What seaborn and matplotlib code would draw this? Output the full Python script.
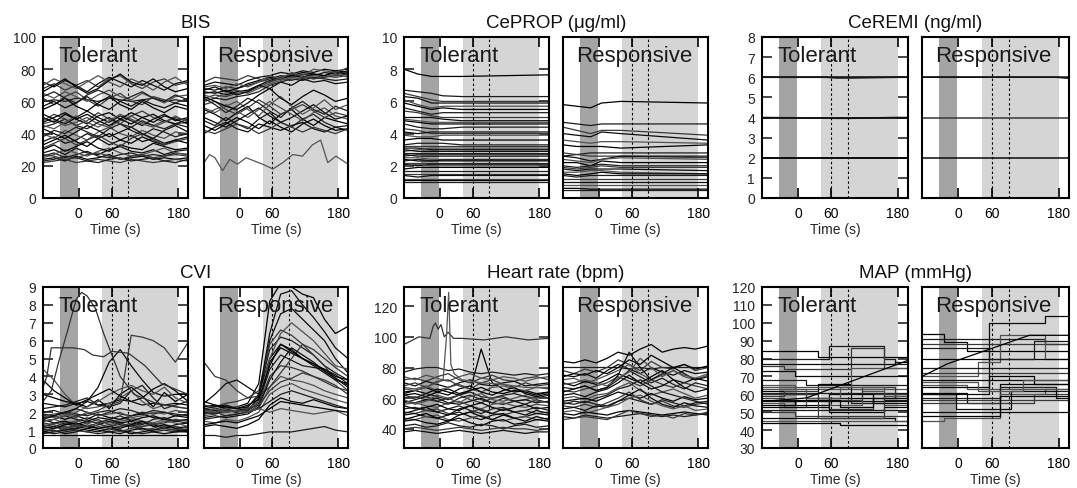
import matplotlib
matplotlib.use("Agg")
import matplotlib.pyplot as plt
import pandas as pd
import seaborn as sns

# ---------------------------------------------------------------- time grids (s)
T = [-65, -45, -25, -5, 15, 35, 55, 75, 95, 115, 135, 155, 175, 198]
T_PROP = [-65, -40, -15, 5, 40, 198]
T_REMI = [-65, 50, 70, 95, 175, 198]

# ---------------------------------------------------------------- BIS
bis_tolerant = [
    [24, 25, 23, 26, 24, 25, 27, 24, 25, 26, 24, 25, 24, 25],
    [26, 28, 25, 27, 29, 26, 25, 27, 28, 26, 27, 26, 28, 27],
    [22, 23, 24, 22, 23, 24, 23, 22, 24, 23, 22, 23, 24, 23],
    [28, 30, 27, 31, 28, 27, 30, 32, 29, 28, 30, 27, 29, 30],
    [25, 27, 30, 28, 26, 29, 31, 28, 26, 27, 29, 31, 28, 27],
    [30, 33, 29, 32, 35, 31, 29, 33, 31, 30, 34, 32, 30, 31],
    [23, 24, 26, 25, 23, 22, 24, 25, 23, 24, 25, 23, 22, 24],
    [27, 26, 24, 25, 27, 28, 26, 24, 26, 27, 25, 26, 27, 26],
    [35, 38, 34, 36, 40, 37, 33, 36, 39, 35, 37, 34, 36, 38],
    [40, 37, 42, 39, 36, 41, 44, 40, 38, 42, 39, 37, 41, 40],
    [33, 36, 39, 35, 32, 37, 40, 36, 34, 38, 35, 33, 36, 34],
    [38, 42, 40, 44, 41, 38, 43, 46, 42, 39, 43, 41, 38, 40],
    [31, 34, 37, 33, 36, 39, 35, 32, 37, 40, 36, 33, 35, 37],
    [43, 40, 37, 41, 45, 42, 38, 41, 44, 40, 37, 42, 45, 41],
    [46, 48, 45, 47, 50, 46, 44, 48, 51, 47, 45, 48, 46, 47],
    [50, 47, 52, 49, 46, 51, 53, 49, 46, 50, 52, 48, 46, 49],
    [44, 46, 49, 45, 43, 47, 50, 46, 44, 48, 45, 43, 46, 44],
    [48, 52, 49, 45, 48, 53, 49, 46, 51, 54, 50, 47, 50, 48],
    [52, 49, 46, 50, 54, 50, 47, 51, 48, 45, 49, 52, 48, 50],
    [45, 43, 47, 51, 47, 44, 48, 52, 49, 46, 44, 47, 51, 47],
    [47, 50, 53, 49, 52, 48, 45, 49, 53, 50, 47, 51, 49, 46],
    [60, 61, 60, 62, 61, 60, 62, 61, 60, 61, 62, 60, 61, 60],
    [62, 58, 63, 66, 61, 57, 62, 65, 60, 58, 63, 61, 59, 62],
    [57, 60, 56, 59, 63, 58, 55, 60, 57, 61, 58, 56, 59, 57],
    [65, 62, 66, 63, 60, 64, 67, 63, 61, 65, 62, 59, 63, 64],
    [55, 58, 62, 57, 54, 59, 63, 58, 55, 60, 56, 53, 57, 55],
    [63, 66, 62, 59, 64, 67, 64, 60, 63, 66, 62, 60, 64, 61],
    [68, 71, 67, 70, 73, 69, 74, 76, 71, 68, 72, 74, 70, 72],
    [72, 69, 73, 70, 66, 71, 75, 72, 69, 73, 70, 67, 71, 73],
    [70, 74, 71, 68, 72, 76, 72, 69, 74, 71, 67, 72, 75, 70],
    [66, 70, 74, 69, 65, 68, 73, 77, 72, 70, 74, 69, 66, 68],
]
bis_responsive = [
    [65, 66, 64, 66, 67, 70, 73, 75, 76, 75, 77, 76, 78, 77],
    [68, 67, 69, 68, 70, 72, 74, 76, 75, 77, 76, 78, 77, 79],
    [62, 64, 63, 65, 66, 69, 72, 74, 73, 75, 74, 76, 75, 76],
    [70, 72, 71, 70, 73, 75, 76, 78, 77, 79, 78, 80, 79, 80],
    [64, 62, 65, 67, 65, 68, 71, 73, 75, 74, 76, 75, 77, 75],
    [67, 69, 66, 68, 71, 73, 75, 74, 76, 78, 77, 76, 79, 78],
    [60, 62, 61, 63, 64, 66, 70, 72, 74, 73, 75, 74, 73, 74],
    [72, 75, 74, 73, 76, 74, 72, 75, 77, 76, 74, 75, 76, 77],
    [66, 65, 67, 64, 66, 70, 68, 72, 70, 74, 72, 73, 71, 72],
    [69, 70, 68, 71, 69, 72, 76, 74, 78, 76, 80, 79, 78, 81],
    [55, 52, 48, 53, 57, 50, 46, 52, 55, 49, 45, 50, 48, 46],
    [48, 45, 50, 46, 43, 49, 53, 47, 44, 49, 52, 47, 44, 45],
    [58, 60, 55, 52, 56, 61, 57, 52, 55, 58, 54, 50, 53, 51],
    [40, 44, 47, 43, 41, 46, 44, 42, 45, 47, 43, 41, 44, 42],
    [52, 55, 58, 54, 50, 55, 60, 56, 52, 48, 53, 56, 51, 49],
    [45, 42, 46, 50, 47, 43, 48, 44, 41, 46, 49, 45, 42, 43],
    [62, 58, 53, 57, 62, 59, 54, 50, 56, 60, 55, 52, 57, 54],
    [42, 40, 43, 46, 44, 40, 43, 47, 44, 41, 44, 42, 40, 43],
    [50, 47, 44, 48, 52, 56, 51, 47, 50, 54, 58, 53, 49, 51],
    [56, 53, 57, 60, 55, 51, 58, 63, 57, 52, 56, 61, 55, 58],
    [63, 60, 57, 55, 59, 64, 68, 62, 58, 63, 67, 64, 60, 62],
]
bis_responsive_low_t = [-65, -55, -45, -31, -18, -4, 12, 42, 61, 79, 97, 115, 133, 148, 161, 176, 198]
bis_responsive_low_v = [22, 27, 25, 17, 24, 21, 25, 21, 18, 22, 27, 26, 33, 36, 22, 26, 21]

# ---------------------------------------------------------------- CePROP (ug/ml)
prop_tolerant = [
    [8.0, 7.7, 7.55, 7.55, 7.55, 7.65],
    [6.7, 6.6, 6.5, 6.35, 6.3, 6.3],
    [6.5, 6.3, 6.1, 6.0, 6.0, 6.0],
    [6.3, 6.2, 5.9, 5.9, 5.9, 5.9],
    [6.1, 5.8, 5.6, 5.7, 5.7, 5.7],
    [5.9, 5.7, 5.5, 5.6, 5.5, 5.5],
    [5.6, 5.4, 5.2, 5.3, 5.3, 5.3],
    [5.4, 5.3, 5.1, 5.0, 5.0, 5.0],
    [5.0, 5.0, 5.0, 4.9, 4.8, 4.8],
    [4.9, 4.8, 4.7, 4.7, 4.7, 4.7],
    [4.8, 4.7, 4.6, 4.6, 4.6, 4.6],
    [4.6, 4.4, 4.3, 4.3, 4.4, 4.4],
    [4.3, 4.2, 4.0, 4.0, 4.0, 4.0],
    [4.1, 4.0, 4.1, 4.1, 4.1, 4.1],
    [3.9, 3.8, 3.8, 3.9, 3.9, 3.9],
    [3.6, 3.7, 3.7, 3.6, 3.6, 3.6],
    [3.3, 3.4, 3.4, 3.4, 3.3, 3.3],
    [3.2, 3.2, 3.2, 3.2, 3.2, 3.2],
    [3.1, 3.1, 3.0, 3.0, 3.0, 3.0],
    [2.9, 3.0, 3.1, 3.1, 3.1, 3.1],
    [3.0, 2.9, 2.9, 2.9, 2.9, 2.9],
    [2.8, 2.8, 2.8, 2.8, 2.8, 2.8],
    [2.6, 2.7, 2.7, 2.7, 2.7, 2.7],
    [2.7, 2.6, 2.6, 2.6, 2.6, 2.6],
    [2.5, 2.5, 2.4, 2.4, 2.4, 2.4],
    [2.4, 2.3, 2.3, 2.35, 2.35, 2.35],
    [2.3, 2.4, 2.3, 2.3, 2.3, 2.3],
    [2.2, 2.2, 2.2, 2.2, 2.2, 2.2],
    [2.1, 2.0, 2.1, 2.1, 2.1, 2.1],
    [2.0, 2.1, 2.0, 2.0, 2.0, 2.0],
    [1.8, 1.9, 1.9, 1.9, 1.9, 1.9],
    [1.7, 1.7, 1.7, 1.7, 1.7, 1.7],
    [1.5, 1.5, 1.5, 1.5, 1.5, 1.5],
    [1.4, 1.3, 1.4, 1.4, 1.4, 1.4],
    [1.2, 1.2, 1.2, 1.2, 1.2, 1.2],
    [1.1, 1.1, 1.1, 1.1, 1.1, 1.1],
    [1.0, 1.0, 1.0, 1.0, 1.0, 1.0],
]
prop_responsive = [
    [5.8, 5.7, 5.6, 5.9, 6.0, 5.9],
    [4.7, 4.6, 4.5, 4.6, 4.6, 4.6],
    [4.4, 4.2, 4.0, 4.2, 4.2, 3.9],
    [4.0, 3.9, 3.8, 4.1, 4.0, 3.6],
    [3.6, 3.5, 3.4, 3.5, 3.5, 3.4],
    [3.3, 3.2, 3.2, 3.2, 3.1, 3.3],
    [2.6, 2.7, 2.8, 2.8, 2.8, 2.8],
    [2.8, 2.7, 2.6, 2.6, 2.6, 2.5],
    [2.6, 2.5, 2.3, 2.4, 2.6, 2.6],
    [2.4, 2.3, 2.2, 2.4, 2.5, 2.4],
    [2.2, 2.2, 2.0, 2.3, 2.2, 2.2],
    [2.0, 1.9, 2.0, 2.1, 2.0, 2.0],
    [1.9, 1.8, 1.9, 2.0, 1.9, 1.9],
    [1.8, 1.7, 1.8, 1.8, 1.8, 1.7],
    [1.6, 1.6, 1.7, 1.7, 1.6, 1.5],
    [1.5, 1.4, 1.5, 1.6, 1.5, 1.5],
    [1.4, 1.3, 1.4, 1.4, 1.4, 1.4],
    [1.2, 1.2, 1.2, 1.2, 1.2, 1.2],
    [1.0, 1.0, 1.0, 1.0, 1.0, 1.0],
    [0.8, 0.8, 0.8, 0.8, 0.8, 0.8],
    [0.6, 0.6, 0.55, 0.55, 0.55, 0.55],
    [0.5, 0.5, 0.5, 0.5, 0.5, 0.5],
]

# ---------------------------------------------------------------- CeREMI (ng/ml)
remi_tolerant = [
    [6.0, 6.0, 5.97, 5.97, 6.0, 6.0],
    [6.0, 6.0, 6.0, 6.0, 6.0, 6.0],
    [4.0, 3.97, 3.96, 3.96, 4.0, 4.0],
    [4.0, 4.0, 4.0, 4.0, 4.0, 4.0],
    [2.0, 2.0, 2.0, 2.0, 2.0, 2.0],
    [2.0, 2.0, 2.0, 2.0, 2.0, 2.0],
]
remi_responsive = [
    [6.0, 6.0, 6.0, 6.0, 6.0, 5.95],
    [6.0, 6.0, 6.0, 6.0, 6.0, 6.0],
    [4.0, 4.0, 4.0, 4.0, 4.0, 4.0],
    [2.0, 2.0, 2.0, 2.0, 2.0, 2.0],
]

# ---------------------------------------------------------------- CVI
cvi_tolerant = [
    [0.7, 0.7, 0.7, 0.7, 0.7, 0.7, 0.7, 0.7, 0.7, 0.7, 0.7, 0.7, 0.7, 0.7],
    [0.9, 0.8, 0.9, 1.0, 0.9, 0.8, 0.9, 1.0, 0.9, 0.8, 0.9, 1.0, 0.9, 0.9],
    [1.1, 1.2, 1.0, 1.1, 1.3, 1.1, 1.0, 1.2, 1.3, 1.1, 1.0, 1.2, 1.1, 1.0],
    [1.3, 1.2, 1.4, 1.2, 1.1, 1.3, 1.5, 1.3, 1.2, 1.4, 1.3, 1.1, 1.3, 1.4],
    [1.5, 1.6, 1.4, 1.5, 1.7, 1.5, 1.4, 1.6, 1.7, 1.5, 1.4, 1.6, 1.5, 1.6],
    [1.7, 1.8, 1.6, 1.8, 1.6, 1.9, 1.7, 1.6, 1.8, 1.9, 1.7, 1.6, 1.8, 1.7],
    [1.9, 1.8, 2.0, 1.9, 1.8, 2.0, 2.1, 1.9, 1.8, 2.0, 1.9, 2.0, 1.9, 1.8],
    [1.0, 1.1, 1.2, 1.0, 0.9, 1.1, 1.2, 1.4, 1.2, 1.0, 1.1, 1.3, 1.2, 1.1],
    [0.8, 0.9, 1.0, 1.1, 1.0, 0.9, 1.1, 1.0, 0.8, 0.9, 1.0, 1.1, 1.0, 0.9],
    [1.2, 1.4, 1.3, 1.5, 1.4, 1.2, 1.3, 1.5, 1.6, 1.4, 1.3, 1.5, 1.4, 1.2],
    [1.6, 1.4, 1.5, 1.3, 1.5, 1.7, 1.6, 1.4, 1.5, 1.7, 1.8, 1.6, 1.5, 1.6],
    [2.0, 2.1, 1.9, 2.2, 2.0, 1.8, 2.0, 2.2, 2.1, 1.9, 2.1, 2.0, 1.8, 1.9],
    [1.4, 1.3, 1.1, 1.2, 1.4, 1.6, 1.3, 1.2, 1.4, 1.2, 1.3, 1.4, 1.6, 1.5],
    [0.9, 1.0, 0.8, 0.9, 1.1, 1.0, 0.9, 0.8, 1.0, 1.1, 0.9, 0.8, 0.9, 1.0],
    [1.8, 1.7, 1.9, 1.7, 2.0, 1.8, 1.9, 2.0, 1.7, 1.8, 2.0, 1.9, 2.1, 2.0],
    [1.2, 1.1, 1.3, 1.4, 1.2, 1.1, 1.2, 1.1, 1.3, 1.5, 1.2, 1.3, 1.1, 1.2],
    [1.5, 1.6, 1.8, 1.6, 1.5, 1.4, 1.6, 1.8, 1.5, 1.3, 1.6, 1.7, 1.5, 1.4],
    [1.1, 0.9, 1.1, 1.3, 1.2, 1.4, 1.1, 0.9, 1.1, 1.2, 1.4, 1.1, 1.0, 1.2],
    [2.5, 2.4, 2.3, 2.5, 2.6, 2.4, 2.5, 2.7, 2.6, 2.4, 2.5, 2.4, 2.5, 2.4],
    [4.4, 3.8, 3.0, 2.4, 2.2, 2.3, 2.5, 2.8, 3.2, 2.6, 2.2, 2.4, 2.3, 2.2],
    [3.0, 2.8, 2.6, 2.5, 2.3, 2.7, 2.2, 3.0, 3.4, 2.9, 2.3, 3.1, 2.6, 3.0],
    [2.2, 2.3, 2.4, 2.6, 2.8, 2.4, 2.3, 2.5, 3.2, 3.5, 2.8, 2.2, 2.4, 2.6],
    [1.8, 1.9, 2.0, 1.8, 1.9, 2.1, 2.4, 2.6, 6.3, 6.2, 6.0, 5.6, 4.8, 5.9],
    [1.6, 1.8, 2.0, 2.2, 2.6, 3.4, 4.8, 5.5, 4.6, 3.8, 3.1, 2.9, 3.0, 3.0],
    [1.5, 1.6, 1.8, 2.0, 2.3, 2.6, 3.0, 3.3, 3.5, 3.2, 3.0, 3.4, 2.8, 2.5],
    [3.8, 3.2, 2.8, 2.4, 2.7, 3.0, 3.3, 2.9, 2.6, 2.8, 3.3, 3.6, 3.2, 2.6],
]
cvi_tolerant_peak_t = [-65, -50, -35, -20, -5, 5, 15, 30, 45, 60, 75, 100, 140, 198]
cvi_tolerant_peak_v = [2.6, 3.2, 5.0, 6.6, 8.3, 8.7, 8.5, 7.8, 6.4, 5.2, 4.0, 3.0, 2.5, 2.2]
cvi_tolerant_plateau_t = [-65, -58, -50, -10, 10, 25, 45, 60, 90, 120, 150, 198]
cvi_tolerant_plateau_v = [3.4, 4.0, 5.6, 5.6, 5.5, 5.2, 5.1, 5.4, 5.3, 4.6, 3.6, 3.0]
cvi_responsive = [
    [2.0, 2.1, 2.0, 2.1, 2.2, 2.6, 4.8, 5.6, 5.3, 5.0, 4.7, 4.3, 3.9, 3.5],
    [2.2, 2.1, 2.2, 2.0, 2.3, 3.0, 5.5, 6.2, 6.0, 5.6, 5.2, 4.6, 4.2, 3.8],
    [1.9, 2.0, 1.8, 1.9, 2.0, 2.4, 4.0, 4.6, 4.5, 4.3, 4.0, 3.7, 3.4, 3.2],
    [2.1, 2.2, 2.3, 2.2, 2.1, 2.8, 6.0, 7.5, 7.8, 7.2, 6.6, 6.0, 5.0, 4.2],
    [1.8, 1.9, 2.0, 2.1, 2.0, 2.2, 3.4, 4.0, 3.8, 3.7, 3.5, 3.2, 3.0, 2.8],
    [2.3, 2.4, 2.2, 2.3, 2.5, 3.6, 8.2, 9.2, 9.0, 8.6, 8.4, 7.2, 6.4, 6.8],
    [2.0, 1.9, 2.1, 2.0, 2.1, 2.5, 4.4, 5.2, 4.9, 4.6, 4.5, 4.4, 4.1, 3.6],
    [4.8, 4.0, 3.8, 3.2, 2.8, 2.9, 3.4, 4.2, 5.0, 5.8, 5.2, 4.6, 3.8, 3.2],
    [2.5, 3.0, 3.6, 3.8, 3.4, 3.0, 5.0, 5.8, 5.5, 5.0, 4.6, 4.2, 3.8, 3.6],
    [1.5, 1.4, 1.6, 1.5, 1.7, 2.0, 3.0, 3.4, 3.6, 3.3, 3.1, 2.9, 2.7, 2.5],
    [1.2, 1.3, 1.2, 1.1, 1.3, 1.6, 2.4, 2.8, 2.6, 2.5, 2.7, 2.5, 2.3, 2.2],
    [0.7, 0.7, 0.6, 0.7, 0.7, 0.8, 0.9, 0.9, 0.9, 1.0, 1.1, 1.2, 1.0, 0.9],
    [2.4, 2.3, 2.5, 2.6, 2.8, 3.2, 5.8, 6.6, 6.3, 5.8, 5.5, 5.0, 4.5, 4.0],
    [1.7, 1.8, 1.7, 1.8, 1.9, 2.3, 3.8, 4.8, 5.6, 5.2, 4.8, 4.3, 3.9, 3.4],
    [2.1, 2.0, 2.2, 2.3, 2.2, 2.6, 5.0, 6.4, 7.0, 6.5, 6.0, 5.3, 4.6, 4.4],
    [2.6, 2.4, 2.3, 2.2, 2.4, 2.7, 4.6, 5.8, 5.4, 5.0, 4.7, 4.4, 4.0, 3.8],
    [1.6, 1.7, 1.8, 1.9, 2.0, 2.2, 2.6, 3.0, 3.2, 3.0, 2.8, 2.6, 2.4, 2.2],
    [1.9, 2.0, 2.1, 2.0, 2.2, 2.4, 3.2, 3.7, 3.9, 4.2, 4.0, 3.8, 3.5, 3.0],
    [2.2, 2.3, 2.4, 2.2, 2.3, 2.9, 6.4, 8.6, 8.8, 8.0, 7.3, 6.5, 5.6, 5.0],
    [2.0, 2.2, 2.0, 2.1, 2.0, 2.2, 2.0, 2.2, 2.1, 2.0, 1.9, 2.0, 2.1, 1.8],
    [1.3, 1.4, 1.5, 1.4, 1.6, 1.8, 2.2, 2.6, 2.5, 2.4, 2.3, 2.2, 2.1, 2.0],
]

# ---------------------------------------------------------------- Heart rate (bpm)
hr_tolerant = [
    [62, 63, 61, 64, 66, 63, 65, 92, 70, 66, 64, 65, 63, 64],
    [77, 79, 80, 80, 78, 79, 77, 76, 77, 76, 75, 76, 75, 76],
    [72, 73, 71, 74, 76, 72, 70, 73, 75, 72, 71, 73, 74, 72],
    [70, 68, 71, 69, 67, 70, 72, 69, 68, 70, 71, 68, 69, 70],
    [67, 66, 68, 65, 67, 69, 66, 64, 67, 68, 66, 65, 67, 66],
    [64, 65, 63, 66, 64, 62, 65, 67, 64, 63, 65, 64, 62, 64],
    [62, 60, 63, 61, 59, 62, 64, 61, 60, 62, 63, 61, 60, 62],
    [60, 61, 59, 58, 60, 62, 59, 57, 60, 61, 58, 59, 61, 60],
    [58, 57, 59, 60, 57, 56, 58, 60, 57, 56, 58, 59, 57, 58],
    [56, 57, 55, 54, 57, 58, 55, 53, 56, 57, 55, 54, 56, 55],
    [55, 53, 54, 56, 53, 52, 55, 57, 54, 52, 54, 56, 53, 54],
    [53, 54, 52, 51, 53, 55, 52, 50, 53, 54, 51, 52, 54, 52],
    [51, 50, 52, 53, 50, 49, 51, 53, 50, 49, 51, 52, 50, 51],
    [49, 50, 48, 47, 49, 51, 48, 46, 49, 50, 47, 48, 50, 49],
    [47, 46, 48, 49, 46, 45, 47, 49, 46, 45, 47, 48, 46, 47],
    [45, 46, 44, 43, 45, 47, 44, 42, 45, 46, 43, 44, 46, 45],
    [42, 43, 41, 42, 44, 42, 41, 43, 42, 40, 42, 43, 41, 42],
    [40, 41, 40, 39, 40, 41, 40, 39, 40, 41, 40, 40, 39, 40],
    [38, 39, 38, 37, 38, 39, 38, 37, 38, 39, 38, 37, 38, 38],
    [74, 72, 75, 73, 71, 74, 76, 73, 72, 74, 73, 71, 73, 74],
    [63, 65, 67, 64, 62, 66, 68, 64, 62, 65, 67, 63, 61, 63],
    [57, 59, 61, 58, 56, 60, 62, 59, 57, 60, 58, 56, 59, 57],
    [68, 70, 67, 71, 72, 68, 66, 70, 72, 69, 67, 70, 68, 69],
    [50, 52, 54, 51, 49, 53, 55, 52, 50, 53, 51, 49, 52, 50],
    [59, 56, 58, 62, 60, 57, 61, 63, 59, 58, 60, 62, 58, 57],
    [46, 48, 50, 47, 45, 49, 51, 48, 46, 49, 47, 45, 48, 46],
]
hr_tolerant_high_t = [-65, -38, -18, -12, -8, -3, 2, 8, 15, 25, 40, 80, 120, 160, 198]
hr_tolerant_high_v = [95, 100, 99, 107, 109, 105, 108, 100, 103, 99, 99, 98, 100, 98, 99]
hr_tolerant_spike_t = [-65, -45, -25, -5, 6, 12, 16, 20, 26, 40, 75, 115, 155, 198]
hr_tolerant_spike_v = [66, 65, 67, 70, 72, 100, 129, 82, 76, 72, 70, 69, 67, 67]
hr_responsive = [
    [84, 83, 85, 83, 86, 90, 88, 92, 95, 90, 92, 93, 92, 94],
    [80, 80, 80, 80, 80, 80, 79, 80, 79, 80, 80, 80, 80, 80],
    [78, 76, 79, 77, 80, 85, 82, 78, 84, 80, 79, 82, 78, 80],
    [75, 74, 76, 73, 78, 82, 79, 76, 80, 77, 75, 78, 76, 77],
    [72, 73, 70, 72, 75, 78, 82, 76, 72, 75, 78, 74, 72, 75],
    [70, 68, 71, 69, 72, 76, 73, 70, 74, 78, 72, 70, 73, 71],
    [67, 66, 68, 65, 67, 72, 78, 74, 70, 73, 69, 66, 70, 68],
    [65, 64, 66, 68, 70, 74, 71, 68, 72, 69, 67, 70, 68, 66],
    [62, 63, 61, 64, 66, 70, 75, 70, 66, 68, 72, 67, 64, 66],
    [60, 61, 59, 62, 63, 67, 70, 65, 62, 64, 66, 63, 60, 62],
    [58, 59, 60, 58, 61, 64, 62, 60, 63, 60, 58, 61, 59, 60],
    [57, 56, 58, 56, 55, 58, 60, 58, 56, 59, 57, 55, 57, 58],
    [55, 54, 56, 54, 57, 60, 64, 59, 56, 58, 55, 54, 56, 57],
    [53, 54, 52, 55, 54, 58, 62, 66, 60, 56, 54, 57, 55, 54],
    [51, 52, 50, 52, 54, 56, 60, 62, 58, 55, 53, 55, 52, 53],
    [50, 49, 51, 50, 49, 51, 52, 51, 50, 49, 50, 51, 50, 49],
    [48, 47, 49, 48, 47, 48, 49, 50, 49, 48, 49, 48, 49, 50],
    [46, 47, 48, 47, 46, 49, 52, 50, 48, 49, 47, 50, 49, 51],
    [64, 66, 68, 65, 67, 75, 90, 80, 72, 76, 80, 76, 72, 74],
    [69, 70, 72, 70, 68, 73, 77, 86, 80, 74, 78, 75, 73, 76],
    [74, 76, 75, 78, 76, 80, 85, 82, 88, 84, 80, 82, 79, 81],
    [56, 58, 57, 60, 62, 66, 68, 72, 68, 64, 62, 60, 58, 56],
]

# ---------------------------------------------------------------- MAP (mmHg)
map_tolerant = [
    [84, 84, 84, 84, 84, 81, 81, 81, 81, 81, 81, 81, 81, 81],
    [80, 80, 80, 80, 80, 80, 87, 87, 87, 87, 87, 80, 77, 77],
    [76, 76, 74, 74, 74, 74, 74, 74, 86, 86, 86, 75, 75, 75],
    [73, 73, 73, 70, 70, 70, 70, 70, 70, 70, 70, 70, 70, 70],
    [65, 65, 65, 63, 63, 63, 63, 63, 63, 63, 63, 63, 63, 63],
    [62, 62, 60, 60, 60, 66, 66, 66, 58, 58, 58, 58, 60, 60],
    [60, 60, 60, 60, 58, 58, 58, 58, 55, 55, 55, 57, 57, 57],
    [58, 58, 56, 56, 56, 56, 52, 52, 52, 52, 60, 60, 60, 60],
    [56, 56, 56, 56, 56, 56, 56, 56, 56, 56, 56, 56, 56, 56],
    [55, 55, 53, 53, 58, 58, 54, 54, 54, 62, 62, 54, 54, 54],
    [53, 53, 53, 53, 53, 53, 50, 50, 50, 50, 50, 53, 53, 53],
    [51, 51, 51, 51, 51, 51, 51, 51, 51, 51, 51, 51, 51, 51],
    [50, 50, 50, 48, 48, 48, 48, 48, 48, 48, 48, 48, 48, 48],
    [47, 47, 47, 47, 47, 47, 47, 47, 47, 47, 47, 47, 45, 45],
    [45, 45, 45, 45, 45, 45, 45, 45, 45, 45, 45, 45, 45, 45],
    [44, 44, 44, 44, 44, 44, 44, 43, 43, 43, 43, 43, 43, 43],
    [61, 61, 61, 61, 61, 61, 61, 61, 61, 61, 61, 61, 61, 61],
    [59, 59, 62, 62, 62, 57, 57, 57, 57, 64, 64, 64, 58, 58],
    [57, 57, 57, 54, 54, 54, 60, 60, 60, 60, 55, 55, 55, 55],
    [63, 63, 63, 63, 58, 58, 58, 64, 64, 64, 64, 59, 59, 59],
    [54, 54, 54, 57, 57, 57, 57, 53, 53, 53, 58, 58, 58, 58],
    [68, 68, 68, 68, 65, 65, 65, 65, 65, 65, 65, 65, 65, 65],
    [60, 60, 60, 60, 60, 47, 47, 47, 47, 47, 47, 60, 60, 60],
    [77, 77, 77, 77, 77, 77, 77, 77, 77, 77, 77, 77, 78, 78],
    [64, 64, 64, 64, 64, 64, 64, 64, 75, 75, 75, 75, 75, 75],
]
map_tolerant_ramp_t = [-65, 15, 198]
map_tolerant_ramp_v = [56, 58, 79]
map_responsive = [
    [94, 94, 89, 89, 84, 84, 84, 84, 84, 84, 84, 84, 84, 84],
    [91, 91, 91, 91, 91, 91, 91, 91, 91, 91, 91, 88, 88, 88],
    [88, 88, 88, 88, 88, 88, 88, 88, 88, 88, 88, 88, 88, 88],
    [60, 60, 60, 60, 60, 60, 100, 100, 100, 100, 100, 104, 104, 104],
    [70, 70, 70, 70, 70, 78, 78, 93, 93, 93, 93, 80, 80, 80],
    [80, 80, 80, 80, 80, 80, 80, 80, 80, 80, 80, 80, 80, 80],
    [75, 75, 75, 75, 75, 75, 75, 75, 75, 75, 75, 75, 75, 75],
    [72, 72, 72, 72, 72, 72, 72, 72, 72, 72, 72, 72, 72, 72],
    [68, 68, 68, 68, 68, 68, 68, 68, 68, 68, 68, 68, 68, 68],
    [65, 65, 65, 65, 63, 63, 63, 63, 63, 63, 63, 63, 63, 63],
    [61, 61, 61, 61, 55, 55, 55, 66, 66, 66, 66, 66, 66, 66],
    [58, 58, 58, 58, 58, 58, 58, 64, 64, 64, 64, 64, 62, 62],
    [55, 55, 55, 55, 55, 55, 55, 55, 55, 55, 60, 60, 60, 60],
    [50, 50, 50, 50, 50, 50, 50, 50, 50, 50, 50, 50, 50, 50],
    [45, 45, 47, 47, 47, 47, 47, 60, 60, 60, 60, 63, 63, 63],
    [64, 64, 64, 64, 64, 64, 70, 70, 70, 70, 66, 66, 66, 66],
    [86, 86, 86, 86, 86, 86, 80, 80, 80, 80, 90, 90, 90, 90],
    [57, 57, 57, 57, 57, 57, 57, 57, 57, 57, 57, 57, 57, 57],
    [60, 60, 60, 52, 52, 52, 52, 52, 62, 62, 62, 62, 58, 58],
    [67, 67, 67, 67, 67, 62, 62, 62, 62, 68, 68, 68, 68, 68],
    [48, 48, 48, 48, 48, 48, 48, 59, 59, 59, 59, 59, 59, 59],
]
map_responsive_ramp_t = [-65, -20, 127, 198]
map_responsive_ramp_v = [70, 77, 93, 93]

# ---------------------------------------------------------------- styling
sns.set_style("ticks")
plt.rcParams["font.family"] = ["Liberation Sans", "DejaVu Sans"]
plt.rcParams["axes.linewidth"] = 1.5

W, H = 1077, 489
PANEL_H = 161
ROW_TOP = [38, 288]
COL_X = [(43, 188, 204, 348), (404, 549, 563, 708), (762, 908, 922, 1069)]
XLIM = (-65, 198)
DARK_BAND = (-35, -2)
LIGHT_BAND = (42, 180)
SHADES = ["#000000", "#1c1c1c", "#383838", "#0c0c0c", "#505050"]

fig = plt.figure(figsize=(W / 100, H / 100), dpi=100)


def add_panel(x0, x1, ytop):
    return fig.add_axes([x0 / W, 1 - (ytop + PANEL_H) / H, (x1 - x0) / W, PANEL_H / H])


def long_form(times, rows):
    recs = []
    for i, row in enumerate(rows):
        for t, v in zip(times, row):
            recs.append((f"s{i:02d}", t, v))
    return pd.DataFrame(recs, columns=["subject", "time", "value"])


def draw_traces(ax, times, rows, steps=False, lw=0.9):
    df = long_form(times, rows)
    pal = [SHADES[i % len(SHADES)] for i in range(len(rows))]
    kw = {"drawstyle": "steps-post"} if steps else {}
    sns.lineplot(data=df, x="time", y="value", hue="subject", palette=pal,
                 estimator=None, legend=False, lw=lw, ax=ax, zorder=2, **kw)


def draw_single(ax, t, v, color="#000000", lw=0.9):
    df = pd.DataFrame({"time": t, "value": v})
    sns.lineplot(data=df, x="time", y="value", estimator=None, color=color,
                 lw=lw, ax=ax, zorder=2)


def style_panel(ax, ylim, yticks, label, tolerant, xlabel=True):
    ax.set_facecolor("white")
    ax.axvspan(*DARK_BAND, color="#a4a4a4", lw=0, zorder=0.5)
    ax.axvspan(*LIGHT_BAND, color="#d5d5d5", lw=0, zorder=0.5)
    for xv in (60, 90):
        ax.axvline(xv, color="black", lw=0.8, ls=(0, (2.2, 2.2)), zorder=1)
    ax.set_xlim(*XLIM)
    ax.set_ylim(*ylim)
    ax.set_xticks([0, 60, 180])
    ax.set_xticklabels(["0", "60", "180"])
    ax.set_yticks(yticks)
    ax.tick_params(axis="x", direction="in", length=7, width=1.2, top=True,
                   bottom=True, labelsize=10, pad=6, colors="black")
    if tolerant:
        ax.tick_params(axis="y", direction="in", length=7, width=1.2, left=True,
                       right=True, labelsize=10, pad=5)
    else:
        ax.tick_params(axis="y", left=False, right=False, labelleft=False)
    for sp in ax.spines.values():
        sp.set_visible(True)
        sp.set_linewidth(1.5)
        sp.set_color("black")
        sp.set_zorder(5)
    ax.set_ylabel("")
    ax.set_xlabel("Time (s)" if xlabel else "", fontsize=10, labelpad=1)
    ax.text(0.105 if tolerant else 0.09, 0.85, label, transform=ax.transAxes,
            fontsize=16, color="#1a1a1a", va="baseline", ha="left", zorder=6)


groups = [
    ("BIS", 0, 0, (0, 100), range(0, 101, 20)),
    ("CePROP (\u03bcg/ml)", 0, 1, (0, 10), range(0, 11, 2)),
    ("CeREMI (ng/ml)", 0, 2, (0, 8), range(0, 9)),
    ("CVI", 1, 0, (0, 9), range(0, 10)),
    ("Heart rate (bpm)", 1, 1, (27.5, 132.5), range(40, 121, 20)),
    ("MAP (mmHg)", 1, 2, (30, 120), range(30, 121, 10)),
]

axes = {}
for title, r, c, ylim, yticks in groups:
    x0, x1, x2, x3 = COL_X[c]
    ax_t = add_panel(x0, x1, ROW_TOP[r])
    ax_r = add_panel(x2, x3, ROW_TOP[r])
    axes[title] = (ax_t, ax_r)
    fig.text((x0 + x3) / 2 / W, 1 - (ROW_TOP[r] - 15) / H, title,
             ha="center", va="center", fontsize=13.5, color="#111111")

# BIS
a, b = axes["BIS"]
draw_traces(a, T, bis_tolerant)
draw_traces(b, T, bis_responsive)
draw_single(b, bis_responsive_low_t, bis_responsive_low_v, color="#555555")

# CePROP
a, b = axes["CePROP (\u03bcg/ml)"]
draw_traces(a, T_PROP, prop_tolerant)
draw_traces(b, T_PROP, prop_responsive)

# CeREMI
a, b = axes["CeREMI (ng/ml)"]
draw_traces(a, T_REMI, remi_tolerant, lw=1.2)
draw_traces(b, T_REMI, remi_responsive, lw=1.1)

# CVI
a, b = axes["CVI"]
draw_traces(a, T, cvi_tolerant)
draw_single(a, cvi_tolerant_peak_t, cvi_tolerant_peak_v, color="#333333")
draw_single(a, cvi_tolerant_plateau_t, cvi_tolerant_plateau_v, color="#333333")
draw_traces(b, T, cvi_responsive)

# Heart rate
a, b = axes["Heart rate (bpm)"]
draw_traces(a, T, hr_tolerant)
draw_single(a, hr_tolerant_high_t, hr_tolerant_high_v, color="#333333")
draw_single(a, hr_tolerant_spike_t, hr_tolerant_spike_v, color="#555555")
draw_traces(b, T, hr_responsive)

# MAP
a, b = axes["MAP (mmHg)"]
draw_traces(a, T, map_tolerant, steps=True)
draw_single(a, map_tolerant_ramp_t, map_tolerant_ramp_v)
draw_traces(b, T, map_responsive, steps=True)
draw_single(b, map_responsive_ramp_t, map_responsive_ramp_v)

for title, r, c, ylim, yticks in groups:
    ax_t, ax_r = axes[title]
    style_panel(ax_t, ylim, list(yticks), "Tolerant", True)
    style_panel(ax_r, ylim, list(yticks), "Responsive", False,
                xlabel=(title != "CeREMI (ng/ml)"))

fig.savefig("out.png", dpi=100)
